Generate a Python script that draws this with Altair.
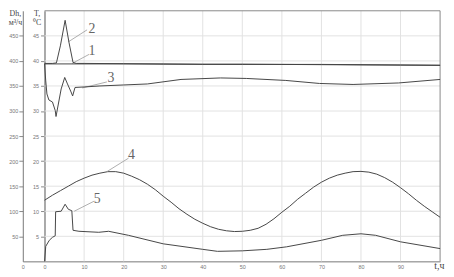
import altair as alt
import pandas as pd

# ---- data ----
# curve 1: temperature, °C
t1 = [0, 10, 20, 30, 40, 50, 60, 70, 80, 90, 100]
T1 = [39.4, 39.4, 39.4, 39.35, 39.3, 39.3, 39.3, 39.25, 39.2, 39.15, 39.1]
# curve 2: temperature, °C (peak at start)
t2 = [0, 2, 3, 4, 5.2, 6.2, 7.2, 8, 10, 20, 30, 40, 50, 60, 70, 80, 90, 100]
T2 = [39.5, 39.5, 39.6, 43.0, 48.1, 43.6, 39.7, 39.5, 39.5, 39.45, 39.4, 39.35,
      39.35, 39.3, 39.3, 39.25, 39.2, 39.15]
# curve 3: temperature, °C
t3 = [0, 0.3, 0.6, 1.1, 2, 2.7, 2.9, 3.3, 4.2, 5.1, 5.8, 6.7, 7.1, 7.7, 10, 14,
      20, 26, 34.5, 44.5, 51, 61, 69.5, 78, 89.5, 100]
T3 = [39.4, 36.0, 33.4, 32.2, 31.8, 30.1, 28.9, 30.6, 34.4, 36.7, 35.4, 33.8,
      33.0, 34.7, 34.8, 35.0, 35.2, 35.4, 36.3, 36.6, 36.5, 36.1, 35.5, 35.3,
      35.6, 36.3]
# curve 4: flow Dh, m3/h
t4 = [0, 2, 4, 6, 8, 10, 12, 14, 16, 18, 20, 22, 24, 26, 28, 30, 32, 34, 36, 38,
      40, 42, 44, 46, 48, 50, 52, 54, 56, 58, 60, 62, 64, 66, 68, 70, 72, 74, 76,
      78, 80, 82, 84, 86, 88, 90, 92, 94, 96, 98, 100]
D4 = [122, 132, 141, 150, 159, 166, 172, 176, 179, 179, 176, 170, 163, 154, 143,
      130, 118, 105, 94, 84, 76, 69, 64, 61, 59.5, 60, 62, 66, 74, 85, 98, 110,
      124, 136, 148, 158, 166, 172, 176, 179, 179.5, 178, 174, 167, 158, 147, 135,
      122, 110, 99, 88]
# curve 5: flow Dh, m3/h
t5 = [0, 0.3, 1.2, 2, 2.7, 2.8, 4.2, 5.2, 6, 6.9, 7.2, 8.7, 13.7, 16.2, 21.2, 30,
      40, 43.7, 50, 56.2, 61.2, 70, 75.4, 80, 83.7, 90, 100]
D5 = [0, 30, 42, 48, 51, 99, 100, 114, 104, 101, 62, 60, 58, 60, 52, 35, 24, 20,
      21, 24, 29, 42, 52, 55, 52, 39, 25.5]

# curve labels and their leader lines (t, Dh units)
lab_text = ["2", "1", "3", "4", "5"]
lab_t = [12, 12, 16.8, 22, 13.3]
lab_D = [464, 419, 366, 212, 124]
lead_t1 = [6, 7, 9.5, 15.75, 7.5]
lead_D1 = [438, 395, 346, 179, 100]
lead_t2 = [10.75, 11.25, 15.75, 21.25, 12.5]
lead_D2 = [462, 413, 358, 206, 120]

x_ticks = [-5.5, 0, 10, 20, 30, 40, 50, 60, 70, 80, 90]
dh_ticks = [50, 100, 150, 200, 250, 300, 350, 400, 450]
t_ticks = [5, 10, 15, 20, 25, 30, 35, 40, 45]

# ---- tables ----
tdf = pd.concat([
    pd.DataFrame({"t": t1, "T": T1, "s": "1"}),
    pd.DataFrame({"t": t2, "T": T2, "s": "2"}),
    pd.DataFrame({"t": t3, "T": T3, "s": "3"}),
])
ddf = pd.concat([
    pd.DataFrame({"t": t4, "Dh": D4, "s": "4"}),
    pd.DataFrame({"t": t5, "Dh": D5, "s": "5"}),
])
vgrid = pd.DataFrame({"t": [10, 20, 30, 40, 50, 60, 70, 80, 90],
                      "Dh": [0] * 9, "Dh2": [500] * 9})
hgrid = pd.DataFrame({"t": [0] * 9, "t2": [100] * 9, "Dh": dh_ticks})
frame = pd.DataFrame({"t": [100, 0], "t2": [100, 100], "Dh": [0, 500], "Dh2": [500, 500]})
labels = pd.DataFrame({"t": lab_t, "Dh": lab_D, "txt": lab_text})
leaders = pd.DataFrame({"t": lead_t1, "t2": lead_t2, "Dh": lead_D1, "Dh2": lead_D2})
unit = pd.DataFrame({"t": [99.8], "Dh": [-10], "txt": ["t,ч"]})

xaxis = alt.Axis(values=x_ticks, labelExpr="datum.value < 0 ? '0' : datum.label",
                 ticks=False, grid=False, labelFontSize=5.5, labelColor="#777",
                 labelFont="Liberation Sans", labelPadding=3, domainColor="#777",
                 title=None, labelFlush=False)
xs = alt.Scale(domain=[-5.5, 100], nice=False, zero=False)
X = alt.X("t:Q", scale=xs, axis=xaxis)

dhaxis = alt.Axis(orient="left", values=dh_ticks, grid=False, tickSize=4,
                  tickColor="#888", domainColor="#777", labelFontSize=5.5,
                  labelColor="#777", labelFont="Liberation Sans", labelPadding=1,
                  title=["Dh,", "м³/ч"], titleAngle=0, titleX=-8, titleY=-1,
                  titleBaseline="top", titleAlign="center", titleFont="Liberation Serif",
                  titleFontSize=8, titleFontWeight="normal", titleColor="#444",
                  titleLineHeight=9)
ds = alt.Scale(domain=[0, 500], nice=False, zero=False)
Y = alt.Y("Dh:Q", scale=ds, axis=dhaxis)

linec = "#454545"
gridc = "#e2e2e2"
vg = alt.Chart(vgrid).mark_rule(color=gridc, strokeWidth=1).encode(x=X, y=Y, y2="Dh2:Q")
hg = alt.Chart(hgrid).mark_rule(color=gridc, strokeWidth=1).encode(x=X, x2="t2:Q", y=Y)
fr = alt.Chart(frame).mark_rule(color="#888", strokeWidth=1).encode(x=X, x2="t2:Q", y=Y, y2="Dh2:Q")
dl = alt.Chart(ddf).mark_line(color=linec, strokeWidth=1).encode(x=X, y=Y, detail="s:N")
ld = alt.Chart(leaders).mark_rule(color="#999", strokeWidth=0.8).encode(x=X, x2="t2:Q", y=Y, y2="Dh2:Q")
lt = alt.Chart(labels).mark_text(font="Liberation Serif", fontSize=14, color="#666",
                                 baseline="middle", align="center").encode(x=X, y=Y, text="txt:N")
ut = alt.Chart(unit).mark_text(font="Liberation Serif", fontSize=10, color="#444",
                               baseline="middle", align="center").encode(x=X, y=Y, text="txt:N")

dh_layer = alt.layer(vg, hg, fr, dl, ld, lt, ut)

taxis = alt.Axis(orient="left", offset=-22, values=t_ticks, grid=False, tickSize=4,
                 tickColor="#888", domainColor="#a0a0a0", domainWidth=1.8,
                 labelFontSize=5.5, labelColor="#777", labelFont="Liberation Sans",
                 labelPadding=2, title=["T,", "⁰C"], titleAngle=0, titleX=-8, titleY=-1,
                 titleBaseline="top", titleAlign="center", titleFont="Liberation Serif",
                 titleFontSize=8, titleFontWeight="normal", titleColor="#444",
                 titleLineHeight=9)
tl = alt.Chart(tdf).mark_line(color=linec, strokeWidth=1).encode(
    x=X, y=alt.Y("T:Q", scale=alt.Scale(domain=[0, 50], nice=False, zero=False), axis=taxis),
    detail="s:N")

chart = alt.layer(dh_layer, tl).resolve_scale(y="independent").properties(
    width=423, height=254,
    autosize=alt.AutoSizeParams(type="none"),
    padding={"left": 15, "top": 1, "right": 6, "bottom": 12},
).configure_view(stroke=None)

chart.save("out.html", embed_options={"renderer": "svg", "actions": False})
